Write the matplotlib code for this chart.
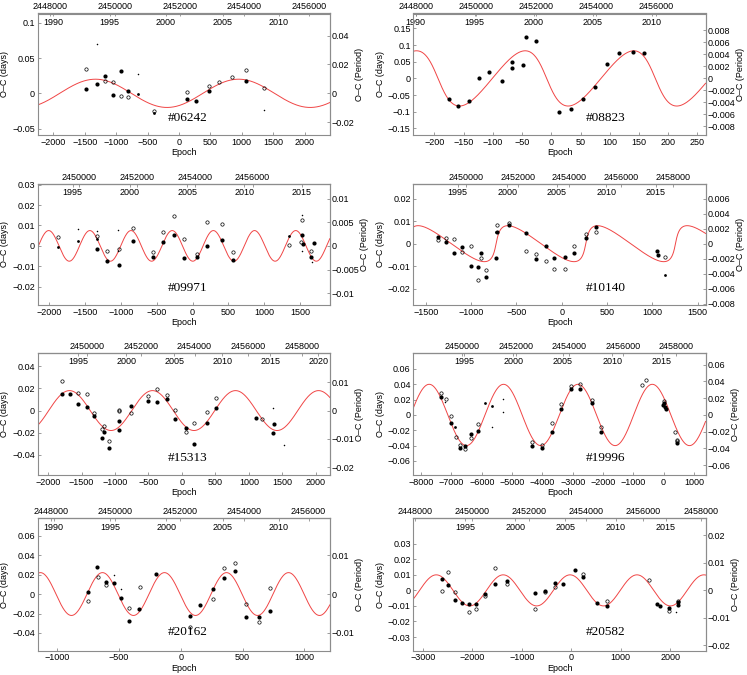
import numpy as np
import matplotlib
matplotlib.use('Agg')
import matplotlib.pyplot as plt
from matplotlib.ticker import FuncFormatter

plt.rcParams['font.family'] = ['Liberation Sans', 'DejaVu Sans']
plt.rcParams['font.size'] = 6.5

# ---- data: epoch and O-C (days) ----
# 06242
ep_fill_06242 = [-1481, -1302, -1180, -1058, -931, -810, 127, 275, 476, 1069]
oc_fill_06242 = [0.0057, 0.0132, 0.024, -0.002, 0.032, 0.0033, -0.0085, -0.0104, 0.0028, 0.0175]
ep_open_06242 = [-1481, -1180, -1058, -931, -810, -392, 127, 476, 635, 841, 1069, 1349]
oc_open_06242 = [0.035, 0.0175, 0.016, -0.004, -0.0057, -0.025, 0.0019, 0.011, 0.016, 0.0226, 0.033, 0.0075]
ep_dot_06242 = [-651, -392]
oc_dot_06242 = [-0.0014, -0.028]
ep_tiny_06242 = [-1312, -651, 1349]
oc_tiny_06242 = [0.0693, 0.028, -0.023]

# 08823
ep_fill_08823 = [-176, -160, -141, -124, -106, -85, -67, -67, -49, -43, -27, 13, 34, 54, 75, 95, 116, 139, 159]
oc_fill_08823 = [-0.063, -0.083, -0.067, 0.002, 0.018, -0.008, 0.049, 0.032, 0.039, 0.124, 0.111,
                 -0.101, -0.093, -0.062, -0.025, 0.043, 0.077, 0.078, 0.076]

# 09971
ep_fill_09971 = [-1330, -1195, -1023, -837, -558, -409, -260, -116, 56, 200, 405, 558, 1521, 1535, 1660, 1693]
oc_fill_09971 = [-0.0016, -0.0073, -0.0094, 0.0023, -0.0052, 0.0020, 0.0052, -0.0059, -0.0052, -0.0003,
                 0.0031, -0.0068, 0.0052, 0.0011, -0.0054, 0.0015]
ep_open_09971 = [-1884, -1340, -1191, -1028, -837, -558, -409, -260, -116, 56, 200, 405, 558, 1340, 1530, 1507, 1660]
oc_open_09971 = [0.0044, 0.0050, -0.0026, -0.0016, 0.0088, -0.0028, 0.0067, 0.0147, 0.0033, -0.0042,
                 0.0117, 0.0109, -0.0029, 0.0003, 0.0129, 0.002, -0.0026]
ep_dot_09971 = [-1884, -1605, -1340, 1349]
oc_dot_09971 = [-0.0007, 0.0023, 0.0033, 0.0047]
ep_tiny_09971 = [-1605, -1340, -1042, -1037, 1521, 1521, 1674]
oc_tiny_09971 = [0.0083, 0.0072, 0.0077, -0.0024, 0.0153, -0.0024, -0.0078]

# 10140
ep_fill_10140 = [-1360, -1272, -1184, -1096, -1000, -919, -893, -831, -724, -710, -581, -390, -287, -176,
                 -85, 37, 132, 272, 382, 1048, 1059]
oc_fill_10140 = [0.0031, 0.0009, -0.0040, -0.0013, -0.0101, -0.0103, -0.0042, -0.0148, -0.0062, 0.0053,
                 0.0081, 0.0048, -0.0066, -0.0012, -0.0062, -0.0059, -0.0040, 0.0025, 0.0076, -0.0032, -0.0051]
ep_open_10140 = [-1360, -1272, -1184, -1096, -1000, -919, -893, -831, -710, -581, -390, -287, -176, -85,
                 37, 132, 272, 382, 1140]
oc_open_10140 = [0.0016, 0.0026, 0.0022, -0.0038, -0.0009, -0.0161, -0.0063, -0.0116, 0.0085, 0.0094,
                 -0.0031, -0.0047, -0.0076, -0.0113, -0.0111, -0.0012, 0.0042, 0.0050, -0.0060]
ep_dot_10140 = [1140, -724]
oc_dot_10140 = [-0.0139, 0.0050]

# 15313
ep_fill_15313 = [-1797, -1668, -1553, -1424, -1310, -1201, -1166, -1087, -938, -938, -754, -506, -372,
                 -223, -109, 55, 179, 367, 501, 1102, 1360, 1370]
oc_fill_15313 = [0.0151, 0.0148, 0.0063, 0.0036, -0.0051, -0.0245, -0.0193, -0.0338, -0.0091, -0.0175,
                 0.0039, 0.0085, 0.0078, 0.0106, -0.0072, -0.0154, -0.0305, -0.0112, 0.0027, -0.0066,
                 -0.0199, -0.0121]
ep_open_15313 = [-1797, -1553, -1424, -1310, -1201, -1166, -1087, -938, -938, -754, -506, -372, -223,
                 -109, 55, 179, 367, 501, 1191]
oc_open_15313 = [0.0263, 0.0157, 0.0148, -0.0021, -0.0169, -0.0136, -0.0278, 0.0009, -0.0006, -0.0024,
                 0.0133, 0.0199, 0.0136, 0.0006, -0.0196, -0.0109, -0.0012, 0.0109, -0.0075]
ep_tiny_15313 = [1365, 1518]
oc_tiny_15313 = [0.0027, -0.0314]

# 19996
ep_fill_19996 = [-7352, -7000, -6725, -6560, -6341, -6110, -4330, -4022, -3692, -3396, -3044, -2747,
                 -2374, -2077, -11, 22, 44, 66, 451]
oc_fill_19996 = [0.024, -0.0109, -0.0437, -0.0402, -0.0253, -0.021, -0.0402, -0.0428, -0.0227, 0.0074,
                 0.0345, 0.0345, 0.0153, -0.0218, 0.0131, 0.0162, 0.0109, 0.0079, -0.037]
ep_open_19996 = [-7352, -7187, -7011, -6857, -6725, -6560, -6341, -6110, -4330, -4022, -3692, -3396,
                 -3044, -2747, -2374, -2077, -703, -593, 22, 363, 429, 451]
oc_open_19996 = [0.0284, 0.021, -0.0017, -0.0293, -0.0393, -0.045, -0.0306, -0.0118, -0.035, -0.0393,
                 -0.0109, 0.014, 0.038, 0.041, 0.0197, -0.0153, 0.0397, 0.045, 0.0183, -0.0227, -0.0332, -0.034]
ep_dot_19996 = [-5890, -5648, -6879]
oc_dot_19996 = [0.0153, 0.0114, -0.0153]
ep_tiny_19996 = [-7198, -5648, -5286, -5286]
oc_tiny_19996 = [0.0175, -0.016, 0.0214, 0.0044]

# 20162
ep_fill_20162 = [-751, -676, -609, -544, -480, -418, -335, -201, 75, 158, 257, 346, 440, 528, 635, 721]
oc_fill_20162 = [0.0017, 0.0274, 0.012, 0.0116, -0.0038, -0.0277, -0.0154, 0.0202, -0.0223, -0.0113,
                 0.0055, 0.0168, 0.0236, -0.0233, -0.024, -0.0171]
ep_open_20162 = [-751, -670, -606, -418, -332, 75, 257, 349, 440, 528, 635, 721]
oc_open_20162 = [-0.0068, 0.0175, 0.0092, -0.014, 0.0068, -0.0339, -0.0048, 0.027, 0.0315, -0.0099,
                 -0.0284, 0.0058]
ep_tiny_20162 = [-544, -480]
oc_tiny_20162 = [0.0192, 0.0055]

# 20582
ep_fill_20582 = [-2611, -2497, -2349, -2215, -2067, -1919, -1745, -1537, -1302, -732, -537, -336, -168,
                 67, 242, 517, 711, 1725, 1785, 1973, 2161, 2161]
oc_fill_20582 = [0.0073, 0.0036, -0.006, -0.0079, -0.009, -0.0088, -0.0026, 0.0041, 0.0062, -0.0019,
                 -0.0006, 0.0047, 0.0041, 0.0128, 0.0084, -0.0084, -0.0098, -0.0086, -0.0101, -0.0111,
                 -0.0094, -0.0073]
ep_open_20582 = [-2604, -2497, -2349, -2067, -1919, -1745, -1537, -1302, -732, -537, -336, 242, 711,
                 1570, 1973, 2161]
oc_open_20582 = [-0.0004, 0.012, -0.0013, -0.0137, -0.012, -0.0036, 0.0141, 0.0039, -0.0122, -0.0013,
                 0.0021, 0.0107, -0.0066, 0.0066, -0.0133, -0.0066]
ep_tiny_20582 = [2121]
oc_tiny_20582 = [-0.0141]

names = ['#06242', '#08823', '#09971', '#10140', '#15313', '#19996', '#20162', '#20582']

# fitted light-time curve parameters: semi-amplitude, period (epochs), T0, e, omega
fit_amp = [0.02, 0.083, 0.0075, 0.008, 0.018, 0.04, 0.022, 0.01]
fit_per = [2280, 186, 575, 990, 1240, 2454, 502, 1351]
fit_t0 = [950, -8, 290, -724, -440, -372, 370, -25]
fit_ecc = [0, 0.33, 0, 0.75, 0, 0, 0, 0]
fit_om = [np.pi / 2, np.pi, np.pi / 2, 0, np.pi / 2, np.pi / 2, np.pi / 2, np.pi / 2]

# axes ranges
ep_lim = [(-2250, 2402), (-236, 264), (-2163, 1916), (-1636, 1588),
          (-2154, 2208), (-8253, 1385), (-1158, 1206), (-3188, 2711)]
jd_lim = [(2447609, 2456648), (2447930, 2457638), (2448558, 2458677), (2447961, 2459277),
          (2448155, 2459040), (2448168, 2459097), (2447589, 2456658), (2447953, 2458174)]
oc_lim = [(-0.059, 0.113), (-0.17, 0.195), (-0.029, 0.0305), (-0.0273, 0.0267),
          (-0.0583, 0.0519), (-0.0786, 0.0808), (-0.0582, 0.0777), (-0.0388, 0.0463)]
per_ratio = [0.49, 0.0555, 0.432, 0.30, 0.39, 0.916, 0.2506, 0.566]
# year axis: (epoch, year) anchors
yr_anchor = [((-1106, 1995), (1593, 2010)), ((-131, 1995), (172, 2010)), ((-1674, 1995), (1521, 2015)),
             ((-1147, 1995), (1040, 2015)), ((-1548, 1995), (2035, 2020)), ((-6582, 1995), (-66, 2015)),
             ((-574, 1995), (794, 2010)), ((-2141, 1995), (1906, 2015))]

ep_ticks = [range(-2000, 2001, 500), range(-200, 251, 50), range(-2000, 1501, 500), range(-1500, 1501, 500),
            range(-2000, 2001, 500), range(-8000, 1001, 1000), range(-1000, 1001, 500), range(-3000, 2001, 1000)]
jd_ticks = [range(2448000, 2456001, 2000), range(2448000, 2456001, 2000), range(2450000, 2456001, 2000),
            range(2450000, 2458001, 2000), range(2450000, 2458001, 2000), range(2450000, 2458001, 2000),
            range(2448000, 2456001, 2000), range(2448000, 2458001, 2000)]
yr_ticks = [range(1990, 2011, 5), range(1990, 2011, 5), range(1995, 2016, 5), range(1995, 2016, 5),
            range(1995, 2021, 5), range(1995, 2016, 5), range(1990, 2011, 5), range(1995, 2016, 5)]
oc_ticks = [[-0.05, 0, 0.05, 0.1], [-0.15, -0.1, -0.05, 0, 0.05, 0.1, 0.15], [-0.02, -0.01, 0, 0.01, 0.02, 0.03],
            [-0.02, -0.01, 0, 0.01, 0.02], [-0.04, -0.02, 0, 0.02, 0.04], [-0.06, -0.04, -0.02, 0, 0.02, 0.04, 0.06],
            [-0.04, -0.02, 0, 0.02, 0.04, 0.06], [-0.03, -0.02, -0.01, 0, 0.01, 0.02, 0.03]]
per_ticks = [[-0.02, 0, 0.02, 0.04], [-0.008, -0.006, -0.004, -0.002, 0, 0.002, 0.004, 0.006, 0.008],
             [-0.01, -0.005, 0, 0.005, 0.01], [-0.008, -0.006, -0.004, -0.002, 0, 0.002, 0.004, 0.006],
             [-0.02, -0.01, 0, 0.01], [-0.06, -0.04, -0.02, 0, 0.02, 0.04, 0.06], [-0.01, 0, 0.01],
             [-0.02, -0.01, 0, 0.01, 0.02]]

points = {
    '#06242': [(ep_fill_06242, oc_fill_06242), (ep_open_06242, oc_open_06242),
               (ep_dot_06242, oc_dot_06242), (ep_tiny_06242, oc_tiny_06242)],
    '#08823': [(ep_fill_08823, oc_fill_08823), ([], []), ([], []), ([], [])],
    '#09971': [(ep_fill_09971, oc_fill_09971), (ep_open_09971, oc_open_09971),
               (ep_dot_09971, oc_dot_09971), (ep_tiny_09971, oc_tiny_09971)],
    '#10140': [(ep_fill_10140, oc_fill_10140), (ep_open_10140, oc_open_10140),
               (ep_dot_10140, oc_dot_10140), ([], [])],
    '#15313': [(ep_fill_15313, oc_fill_15313), (ep_open_15313, oc_open_15313),
               ([], []), (ep_tiny_15313, oc_tiny_15313)],
    '#19996': [(ep_fill_19996, oc_fill_19996), (ep_open_19996, oc_open_19996),
               (ep_dot_19996, oc_dot_19996), (ep_tiny_19996, oc_tiny_19996)],
    '#20162': [(ep_fill_20162, oc_fill_20162), (ep_open_20162, oc_open_20162),
               ([], []), (ep_tiny_20162, oc_tiny_20162)],
    '#20582': [(ep_fill_20582, oc_fill_20582), (ep_open_20582, oc_open_20582),
               ([], []), (ep_tiny_20582, oc_tiny_20582)],
}


def oc_model(ep, amp, per, t0, ecc, om):
    m = 2 * np.pi * (ep - t0) / per
    m = np.angle(np.exp(1j * m))
    ea = m + 0.85 * ecc * np.sign(np.sin(m))
    for _ in range(60):
        ea = ea - (ea - ecc * np.sin(ea) - m) / (1 - ecc * np.cos(ea))
    return amp * np.sin(ea + om)


def lin(x0, x1, y0, y1):
    k = (y1 - y0) / (x1 - x0)
    return (lambda x: y0 + (np.asarray(x) - x0) * k), (lambda y: x0 + (np.asarray(y) - y0) / k)


def fmt_num(v, pos):
    if abs(v) < 1e-12:
        return '0'
    return ('%g' % round(v, 6)).replace('-', '\u2212')


fmt_int = FuncFormatter(lambda v, p: '%d' % round(v))
gray = '#8c8c8c'

fig = plt.figure(figsize=(7.47, 6.75), dpi=100)
col_left = [0.0505, 0.5535]
row_bottom = [0.800, 0.548, 0.296, 0.036]
row_height = [0.180, 0.180, 0.181, 0.196]
name_x = [0.513, 0.657]

for i, name in enumerate(names):
    r, c = i // 2, i % 2
    ax = fig.add_axes([col_left[c], row_bottom[r], 0.391, row_height[r]])

    xs = np.linspace(ep_lim[i][0], ep_lim[i][1], 1500)
    ax.plot(xs, oc_model(xs, fit_amp[i], fit_per[i], fit_t0[i], fit_ecc[i], fit_om[i]),
            color='#f04545', lw=0.7)

    (ef, of), (eo, oo), (ed, od), (et, ot) = points[name]
    ax.plot(eo, oo, 'o', mfc='none', mec='k', ms=2.4, mew=0.5)
    ax.plot(ef, of, 'o', color='k', ms=3.0, mew=0)
    ax.plot(ed, od, 'o', color='k', ms=2.0, mew=0)
    ax.plot(et, ot, 'o', color='k', ms=1.1, mew=0)

    ax.set_xlim(ep_lim[i])
    ax.set_ylim(oc_lim[i])
    ax.set_xticks(list(ep_ticks[i]))
    ax.set_yticks(oc_ticks[i])
    ax.xaxis.set_major_formatter(FuncFormatter(fmt_num))
    ax.yaxis.set_major_formatter(FuncFormatter(fmt_num))
    ax.tick_params(direction='in', length=2, width=0.6, color=gray, pad=2, labelsize=6.5)
    for s in ax.spines.values():
        s.set_color(gray)
        s.set_linewidth(0.8)
    ax.set_xlabel('Epoch', labelpad=1)
    ax.set_ylabel('O\u2013C (days)', labelpad=2)
    ax.text(name_x[c], 0.14, name, transform=ax.transAxes, ha='center', va='center',
            family=['Liberation Serif', 'DejaVu Serif'], fontsize=9.5)

    jd = ax.secondary_xaxis('top', functions=lin(ep_lim[i][0], ep_lim[i][1], jd_lim[i][0], jd_lim[i][1]))
    jd.set_xticks(list(jd_ticks[i]))
    jd.xaxis.set_major_formatter(fmt_int)
    jd.tick_params(direction='in', length=2, width=0.6, color=gray, pad=1.5, labelsize=6.5)
    jd.spines['top'].set_color(gray)

    (ea, ya), (eb, yb) = yr_anchor[i]
    yr = ax.secondary_xaxis('top', functions=lin(ea, eb, ya, yb))
    yr.set_xticks(list(yr_ticks[i]))
    yr.xaxis.set_major_formatter(fmt_int)
    yr.tick_params(direction='in', length=2, width=0.6, color=gray, pad=-9.5, labelsize=6.5)
    yr.spines['top'].set_color(gray)

    k = per_ratio[i]
    ra = ax.secondary_yaxis('right', functions=(lambda d, k=k: d * k, lambda p, k=k: p / k))
    ra.set_yticks(per_ticks[i])
    ra.yaxis.set_major_formatter(FuncFormatter(fmt_num))
    ra.tick_params(direction='in', length=2, width=0.6, color=gray, pad=1.5, labelsize=6.5)
    ra.spines['right'].set_color(gray)
    ra.set_ylabel('O\u2013C (Period)', labelpad=0.5)

fig.savefig('out.png', dpi=100)
